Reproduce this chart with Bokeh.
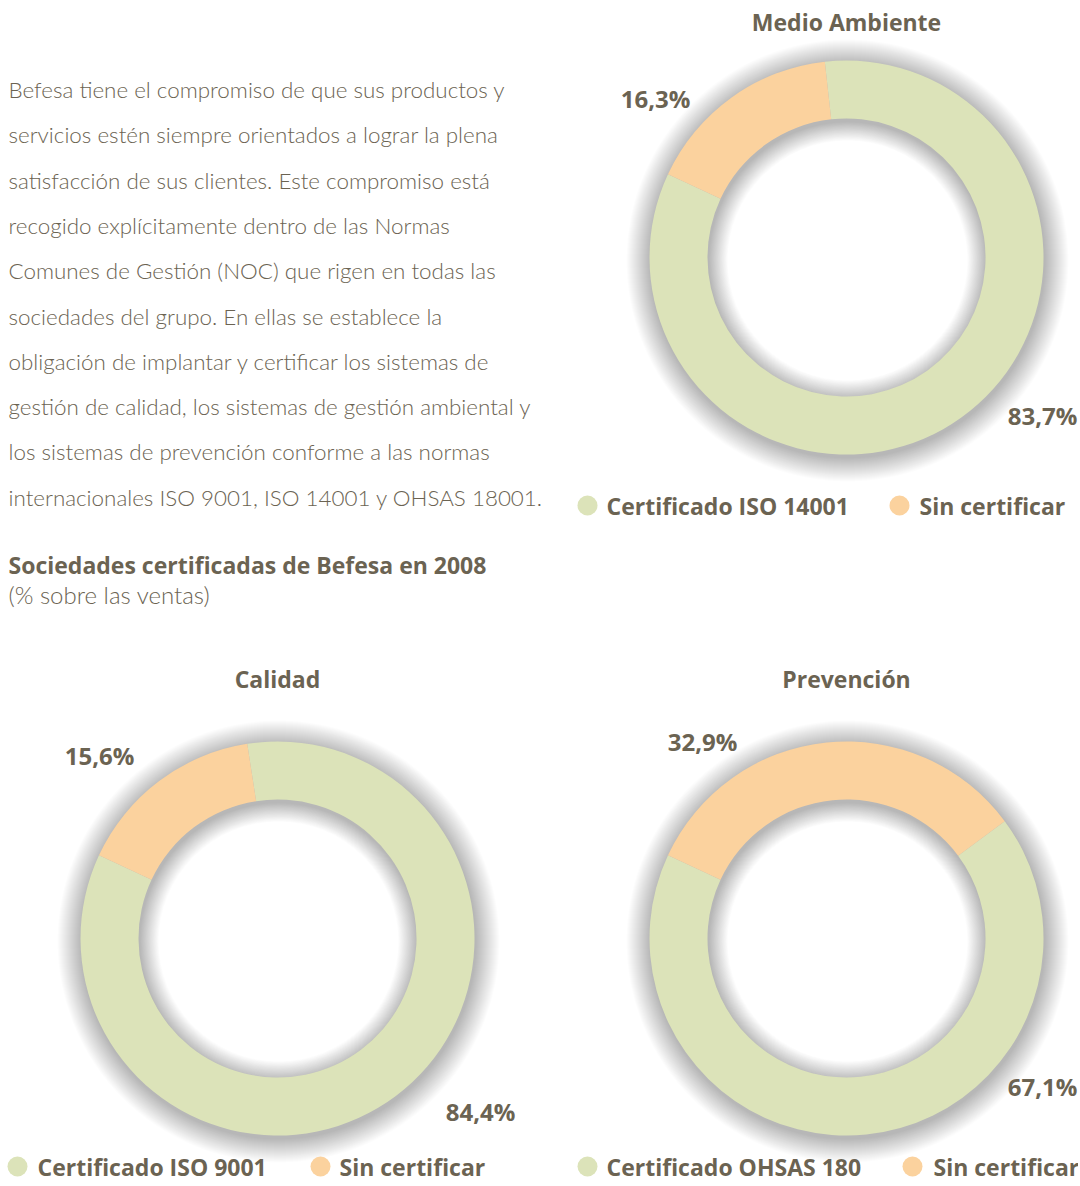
import math
from bokeh.plotting import figure
from bokeh.models import Range1d
from bokeh.embed import file_html
from bokeh.resources import INLINE
from bokeh.core.properties import value

# ---------------- data ----------------
chart_titles = ["Medio Ambiente", "Calidad", "Prevención"]
certificado_pct = [83.7, 84.4, 67.1]
sin_certificar_pct = [16.3, 15.6, 32.9]
certificado_labels = ["Certificado ISO 14001", "Certificado ISO 9001", "Certificado OHSAS 180"]
sin_certificar_label = "Sin certificar"
pct_text_cert = ["83,7%", "84,4%", "67,1%"]
pct_text_sin = ["16,3%", "15,6%", "32,9%"]

paragraph = [
    "Befesa tiene el compromiso de que sus productos y",
    "servicios estén siempre orientados a lograr la plena",
    "satisfacción de sus clientes. Este compromiso está",
    "recogido explícitamente dentro de las Normas",
    "Comunes de Gestión (NOC) que rigen en todas las",
    "sociedades del grupo. En ellas se establece la",
    "obligación de implantar y certificar los sistemas de",
    "gestión de calidad, los sistemas de gestión ambiental y",
    "los sistemas de prevención conforme a las normas",
    "internacionales ISO 9001, ISO 14001 y OHSAS 18001.",
]
heading = "Sociedades certificadas de Befesa en 2008"
subheading = "(% sobre las ventas)"

# ---------------- styles ----------------
W, H = 1078, 1184
GREEN = "#DCE3B9"
ORANGE = "#FBD29E"
TXT = "#6B6352"
BOLD = value("Open Sans")
LIGHT = value("Lato Light, Lato")

def fx(x):
    return x

def fy(y):
    return H - y

p = figure(width=W, height=H, output_backend="svg", toolbar_location=None,
           x_range=Range1d(0, W), y_range=Range1d(0, H), min_border=0,
           match_aspect=False)
p.axis.visible = False
p.grid.visible = False
p.outline_line_color = None
p.background_fill_color = "white"
p.border_fill_color = "white"

# donut layout (reference pixel positions)
centers = [(846, 257), (277, 938), (846, 938)]
R_OUT, R_IN = 197, 139
START = math.radians(155)

title_pos = [(846, 21), (277, 678), (846, 678)]
sin_lbl_pos = [(655, 98), (99, 755), (702, 741)]
cert_lbl_pos = [(1042, 415), (480, 1111), (1042, 1086)]
legend_pos = [(587, 505, 606, 899, 919), (17, 1166, 37, 320, 339), (587, 1166, 606, 912, 933)]

for i in range(3):
    cx, cy = fx(centers[i][0]), fy(centers[i][1])
    # soft shadow
    for k in range(1, 25):
        p.annulus(x=[cx + 1], y=[cy - 3], inner_radius=R_IN - k * 0.8, outer_radius=R_OUT + k,
                  fill_color="#000000", fill_alpha=0.010, line_color=None)
    a1 = START + 2 * math.pi * certificado_pct[i] / 100.0
    a2 = a1 + 2 * math.pi * sin_certificar_pct[i] / 100.0
    p.annular_wedge(x=[cx], y=[cy], inner_radius=R_IN, outer_radius=R_OUT,
                    start_angle=START, end_angle=a1, fill_color=GREEN, line_color=None)
    p.annular_wedge(x=[cx], y=[cy], inner_radius=R_IN, outer_radius=R_OUT,
                    start_angle=a1, end_angle=a2, fill_color=ORANGE, line_color=None)
    # title
    tx, ty = title_pos[i]
    p.text(x=[fx(tx)], y=[fy(ty)], text=[chart_titles[i]], text_font=BOLD,
           text_font_style="bold", text_font_size="23px", text_color=TXT,
           text_align="center", text_baseline="middle")
    # labels
    sx, sy = sin_lbl_pos[i]
    p.text(x=[fx(sx)], y=[fy(sy)], text=[pct_text_sin[i]], text_font=BOLD,
           text_font_style="bold", text_font_size="24px", text_color=TXT,
           text_align="center", text_baseline="middle")
    gx, gy = cert_lbl_pos[i]
    p.text(x=[fx(gx)], y=[fy(gy)], text=[pct_text_cert[i]], text_font=BOLD,
           text_font_style="bold", text_font_size="24px", text_color=TXT,
           text_align="center", text_baseline="middle")
    # legend
    c1x, ly, t1x, c2x, t2x = legend_pos[i]
    p.scatter(x=[fx(c1x)], y=[fy(ly)], size=20, marker="circle", fill_color=GREEN, line_color=None)
    p.scatter(x=[fx(c2x)], y=[fy(ly)], size=20, marker="circle", fill_color=ORANGE, line_color=None)
    p.text(x=[fx(t1x)], y=[fy(ly)], text=[certificado_labels[i]], text_font=BOLD,
           text_font_style="bold", text_font_size="23px", text_color=TXT,
           text_align="left", text_baseline="middle")
    p.text(x=[fx(t2x)], y=[fy(ly)], text=[sin_certificar_label], text_font=BOLD,
           text_font_style="bold", text_font_size="23px", text_color=TXT,
           text_align="left", text_baseline="middle")

# paragraph text
para_y0, para_dy = 89, 45.3
for j, line in enumerate(paragraph):
    p.text(x=[fx(8)], y=[fy(para_y0 + j * para_dy)], text=[line], text_font=LIGHT,
           text_font_size="22.4px", text_color=TXT, text_align="left",
           text_baseline="middle")

p.text(x=[fx(8)], y=[fy(564)], text=[heading], text_font=BOLD, text_font_style="bold",
       text_font_size="23px", text_color=TXT, text_align="left", text_baseline="middle")
p.text(x=[fx(8)], y=[fy(594)], text=[subheading], text_font=LIGHT,
       text_font_size="24px", text_color=TXT, text_align="left", text_baseline="middle")

open("out.html", "w").write(file_html(p, INLINE))
